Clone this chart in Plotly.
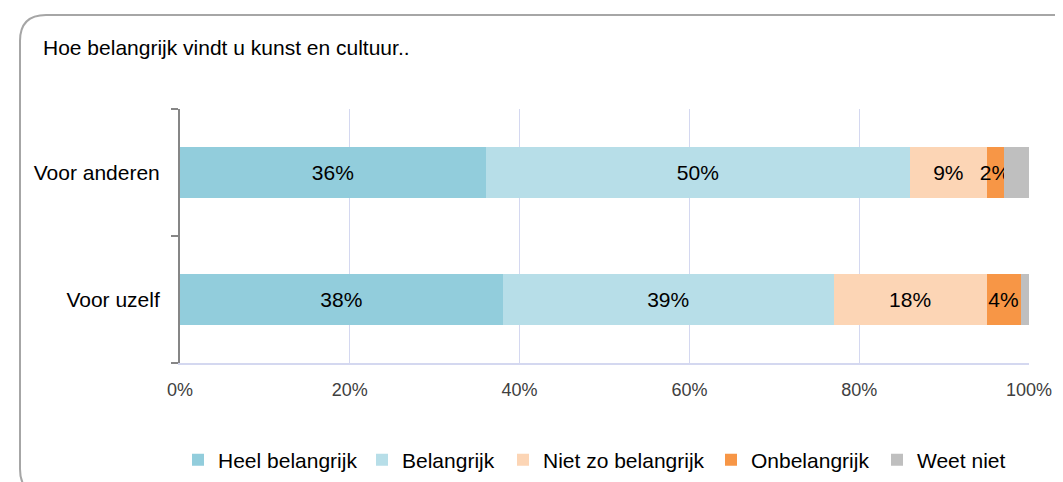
import plotly.graph_objects as go

categories = ["Voor uzelf", "Voor anderen"]
series_names = ["Heel belangrijk", "Belangrijk", "Niet zo belangrijk", "Onbelangrijk", "Weet niet"]
heel_belangrijk = [38, 36]
belangrijk = [39, 50]
niet_zo_belangrijk = [18, 9]
onbelangrijk = [4, 2]
weet_niet = [1, 3]
tick_values = [0, 20, 40, 60, 80, 100]
tick_labels = ["0%", "20%", "40%", "60%", "80%", "100%"]
title_text = "Hoe belangrijk vindt u kunst en cultuur.."

colors = ["#92CDDC", "#B7DEE8", "#FCD5B5", "#F79646", "#BFBFBF"]
values = [heel_belangrijk, belangrijk, niet_zo_belangrijk, onbelangrijk, weet_niet]
show_labels = [True, True, True, True, False]
legend_left_px = [170, 354, 495, 703, 869]

FONT = "Liberation Sans, Arial, sans-serif"
W, H = 1063, 482
L, R, T, B = 172, 42, 101, 127
pw, ph = W - L - R, H - T - B


def px(x):
    return (x - L) / pw


def py(y):
    return (H - B - y) / ph


fig = go.Figure()
legend_layouts = {}
for i, (name, vals, col, lab) in enumerate(zip(series_names, values, colors, show_labels)):
    lg = "legend" if i == 0 else f"legend{i + 1}"
    fig.add_trace(go.Bar(
        y=categories, x=vals, name=name, orientation="h",
        marker=dict(color=col, line=dict(width=0)),
        text=[f"{v}%" for v in vals] if lab else None,
        textposition="inside" if lab else "none",
        insidetextanchor="middle",
        textangle=0,
        constraintext="none",
        textfont=dict(size=21, color="#000000", family=FONT),
        hoverinfo="x+y+name",
        legend=lg,
    ))
    legend_layouts[lg] = dict(orientation="h", x=px(legend_left_px[i]), xanchor="left",
                              y=py(452), yanchor="middle",
                              font=dict(size=21, family=FONT, color="#000000"),
                              itemwidth=30, bgcolor="rgba(0,0,0,0)")

# rounded border
x0, y0, x1, y1, r = 12, 7, 1077, 487, 26
path = (
    f"M {px(x0 + r)} {py(y0)} L {px(x1 - r)} {py(y0)} "
    f"Q {px(x1)} {py(y0)} {px(x1)} {py(y0 + r)} "
    f"L {px(x1)} {py(y1 - r)} Q {px(x1)} {py(y1)} {px(x1 - r)} {py(y1)} "
    f"L {px(x0 + r)} {py(y1)} Q {px(x0)} {py(y1)} {px(x0)} {py(y1 - r)} "
    f"L {px(x0)} {py(y0 + r)} Q {px(x0)} {py(y0)} {px(x0 + r)} {py(y0)} Z"
)

fig.update_layout(
    width=W, height=H,
    margin=dict(l=L, r=R, t=T, b=B, autoexpand=False),
    paper_bgcolor="white", plot_bgcolor="white",
    barmode="stack", bargap=0.6,
    font=dict(family=FONT, size=20, color="#000000"),
    showlegend=True,
    shapes=[dict(type="path", path=path, xref="paper", yref="paper",
                 line=dict(color="#A6A6A6", width=2), fillcolor="rgba(0,0,0,0)", layer="below")],
    annotations=[dict(text=title_text, xref="paper", yref="paper", x=px(33), y=py(40),
                      xanchor="left", yanchor="middle", showarrow=False,
                      font=dict(size=21, color="#000000", family=FONT))],
    **legend_layouts,
)

fig.update_xaxes(range=[0, 100], tickvals=tick_values, ticktext=tick_labels,
                 showgrid=True, gridcolor="#D4D8F0", gridwidth=1,
                 showline=True, linecolor="#D4D8F0", linewidth=2,
                 ticks="outside", ticklen=9, tickcolor="rgba(0,0,0,0)",
                 tickfont=dict(size=18, color="#404040", family=FONT), zeroline=False, fixedrange=True)
fig.update_yaxes(type="category", categoryorder="array", categoryarray=categories,
                 showline=True, linecolor="#868686", linewidth=2,
                 ticks="outside", tickson="boundaries", ticklen=7, tickcolor="#868686", tickwidth=2,
                 ticklabelstandoff=14,
                 tickfont=dict(size=21, color="#000000", family=FONT), showgrid=False, fixedrange=True)

fig.write_html("out.html")
